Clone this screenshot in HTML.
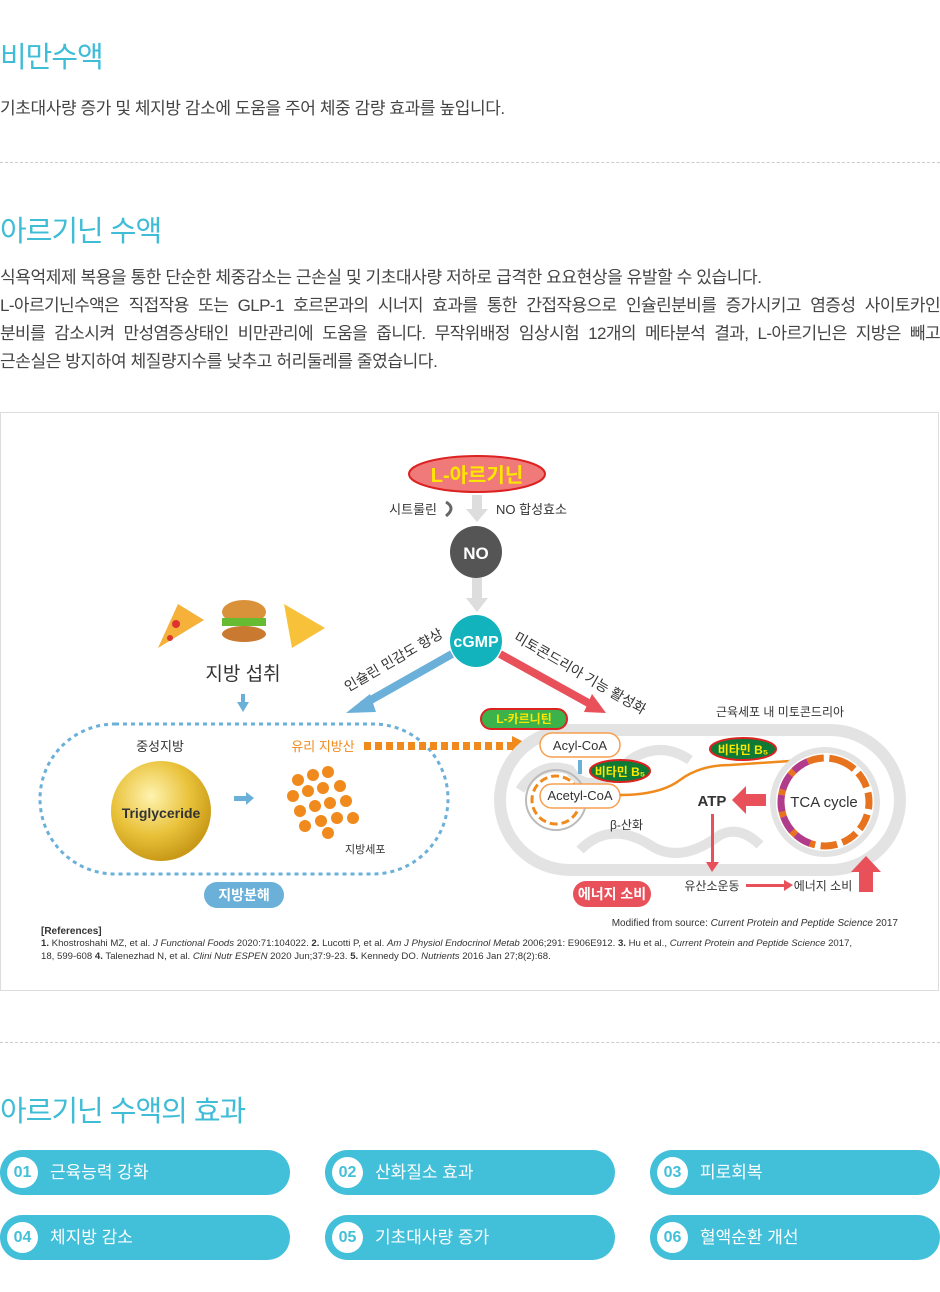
<!DOCTYPE html>
<html><head><meta charset="utf-8"><style>
*{margin:0;padding:0;box-sizing:border-box}
body{width:940px;height:1292px;background:#fff;position:relative;font-family:"Liberation Sans","Noto Sans CJK KR",sans-serif;color:#444;overflow:hidden}
.a{position:absolute}
h2{position:absolute;left:0;font-size:29px;font-weight:normal;color:#3fbcd6;letter-spacing:-1px}
.p{position:absolute;left:0;font-size:17px;color:#444;letter-spacing:-0.4px}
.j{text-align:justify;text-align-last:justify;width:940px;white-space:nowrap}
.dash{position:absolute;left:0;width:940px;border-top:1px dashed #ccc}
.pill{position:absolute;width:290px;height:45px;background:#42bfd9;border-radius:23px;color:#fff;font-size:17px;line-height:45px}
.pill b{position:absolute;left:7px;top:7px;width:31px;height:31px;border-radius:50%;background:#fff;color:#42bfd9;font-size:16px;line-height:31px;text-align:center}
.pill span{position:absolute;left:50px}
</style></head><body>
<h2 style="top:34px">비만수액</h2>
<div class="p" style="top:94px">기초대사량 증가 및 체지방 감소에 도움을 주어 체중 감량 효과를 높입니다.</div>
<div class="dash" style="top:162px"></div>
<h2 style="top:208px">아르기닌 수액</h2>
<div class="p" style="top:264px;width:940px;line-height:28px">
<div>식욕억제제 복용을 통한 단순한 체중감소는 근손실 및 기초대사량 저하로 급격한 요요현상을 유발할 수 있습니다.</div>
<div class="j" style="letter-spacing:-0.6px">L-아르기닌수액은 직접작용 또는 GLP-1 호르몬과의 시너지 효과를 통한 간접작용으로 인슐린분비를 증가시키고 염증성 사이토카인</div>
<div class="j" style="letter-spacing:-0.6px">분비를 감소시켜 만성염증상태인 비만관리에 도움을 줍니다. 무작위배정 임상시험 12개의 메타분석 결과, L-아르기닌은 지방은 빼고</div>
<div>근손실은 방지하여 체질량지수를 낮추고 허리둘레를 줄였습니다.</div>
</div>

<svg class="a" style="left:0;top:412px" width="940" height="580" viewBox="0 412 940 580" font-family="Liberation Sans, Noto Sans CJK KR, sans-serif">
<rect x="0.5" y="412.5" width="938" height="578" fill="#fff" stroke="#ddd"/>
<ellipse cx="477" cy="474" rx="68" ry="18" fill="#f07a7a" stroke="#d22" stroke-width="2"/>
<text x="477" y="482" font-size="20" font-weight="bold" fill="#ffe600" text-anchor="middle">L-아르기닌</text>
<text x="437" y="514" font-size="13" fill="#333" text-anchor="end">시트룰린</text>
<path d="M446 502 q10 6 0 14" stroke="#666" stroke-width="3" fill="none"/>
<text x="496" y="514" font-size="13" fill="#333">NO 합성효소</text>
<rect x="472" y="495" width="10" height="14" fill="#ddd"/><polygon points="466,509 488,509 477,522" fill="#ddd"/>
<circle cx="476" cy="552" r="26" fill="#555"/>
<text x="476" y="559" font-size="17" font-weight="bold" fill="#fff" text-anchor="middle">NO</text>
<rect x="472" y="578" width="10" height="22" fill="#ddd"/><polygon points="466,598 488,598 477,612" fill="#ddd"/>
<circle cx="476" cy="641" r="26" fill="#12b3bc"/>
<text x="476" y="647" font-size="16" font-weight="bold" fill="#fff" text-anchor="middle">cGMP</text>
<line x1="452" y1="654" x2="362" y2="705" stroke="#6ab0d8" stroke-width="8"/><polygon points="346,713 370,694 376,712" fill="#6ab0d8"/>
<line x1="500" y1="654" x2="592" y2="705" stroke="#e8505a" stroke-width="8"/><polygon points="606,713 584,712 592,694" fill="#e8505a"/>
<text transform="translate(348,692) rotate(-30)" font-size="14" fill="#333">인슐린 민감도 향상</text>
<text transform="translate(513,640) rotate(30)" font-size="14" fill="#333">미토콘드리아 기능 활성화</text>
<polygon points="158,648 178,604 204,620" fill="#f5b13a"/><circle cx="176" cy="624" r="4" fill="#d33"/><circle cx="170" cy="638" r="3" fill="#d33"/>
<ellipse cx="244" cy="612" rx="22" ry="12" fill="#d9913a"/><rect x="222" y="618" width="44" height="8" fill="#6b3" /><ellipse cx="244" cy="634" rx="22" ry="8" fill="#c97a30"/>
<polygon points="284,604 325,628 292,648" fill="#f7c23a"/>
<text x="243" y="680" font-size="19" fill="#333" text-anchor="middle">지방 섭취</text>
<rect x="241" y="694" width="4" height="8" fill="#6ab0d8"/><polygon points="237,702 249,702 243,712" fill="#6ab0d8"/>
<rect x="40" y="724" width="408" height="150" rx="75" fill="none" stroke="#6ab0d8" stroke-width="3" stroke-dasharray="4 4"/>
<text x="160" y="751" font-size="13" fill="#333" text-anchor="middle">중성지방</text>
<defs><radialGradient id="g" cx="40%" cy="35%" r="65%"><stop offset="0" stop-color="#fff3b0"/><stop offset="0.6" stop-color="#e9c23a"/><stop offset="1" stop-color="#c99a18"/></radialGradient></defs>
<circle cx="161" cy="811" r="50" fill="url(#g)"/>
<text x="161" y="818" font-size="14" font-weight="bold" fill="#333" text-anchor="middle">Triglyceride</text>
<rect x="234" y="796" width="12" height="5" fill="#6ab0d8"/><polygon points="246,792 254,798 246,805" fill="#6ab0d8"/>
<g fill="#f08a1c"><circle cx="298" cy="780" r="6"/><circle cx="313" cy="775" r="6"/><circle cx="328" cy="772" r="6"/><circle cx="293" cy="796" r="6"/><circle cx="308" cy="791" r="6"/><circle cx="323" cy="788" r="6"/><circle cx="340" cy="786" r="6"/><circle cx="300" cy="811" r="6"/><circle cx="315" cy="806" r="6"/><circle cx="330" cy="803" r="6"/><circle cx="346" cy="801" r="6"/><circle cx="305" cy="826" r="6"/><circle cx="321" cy="821" r="6"/><circle cx="337" cy="818" r="6"/><circle cx="353" cy="818" r="6"/><circle cx="328" cy="833" r="6"/></g>
<text x="345" y="853" font-size="11" fill="#333">지방세포</text>
<text x="323" y="751" font-size="13" fill="#f08a1c" text-anchor="middle">유리 지방산</text>
<line x1="364" y1="746" x2="515" y2="746" stroke="#f08a1c" stroke-width="8" stroke-dasharray="7 4"/><polygon points="512,736 532,746 512,756" fill="#f08a1c"/>
<rect x="204" y="882" width="80" height="26" rx="13" fill="#6ab0d8"/><text x="244" y="900" font-size="14" font-weight="bold" fill="#fff" text-anchor="middle">지방분해</text>
<text x="780" y="716" font-size="12" fill="#333" text-anchor="middle">근육세포 내 미토콘드리아</text>
<rect x="500" y="730" width="400" height="140" rx="70" fill="#fff" stroke="#e3e3e3" stroke-width="12"/>
<path d="M520 790 q20 -30 50 -20 q20 30 60 -10 q30 -20 60 0" stroke="#e3e3e3" stroke-width="10" fill="none"/>
<path d="M580 850 q30 -30 70 -5 q30 20 70 -10 q20 -10 40 10" stroke="#e3e3e3" stroke-width="10" fill="none"/>
<circle cx="556" cy="800" r="30" fill="none" stroke="#bbb" stroke-width="2"/><circle cx="556" cy="800" r="24" fill="none" stroke="#f08a1c" stroke-width="3" stroke-dasharray="8 4"/>
<rect x="540" y="733" width="80" height="24" rx="12" fill="#fff" stroke="#f5a050" stroke-width="1.5"/><text x="580" y="750" font-size="13" fill="#333" text-anchor="middle">Acyl-CoA</text>
<rect x="540" y="784" width="80" height="24" rx="12" fill="#fff" stroke="#f5a050" stroke-width="1.5"/><text x="580" y="800" font-size="13" fill="#333" text-anchor="middle">Acetyl-CoA</text>
<rect x="578" y="760" width="4" height="14" fill="#6ab0d8"/>
<ellipse cx="620" cy="771" rx="30" ry="11" fill="#0e7a35" stroke="#d22" stroke-width="2"/><text x="620" y="776" font-size="12" font-weight="bold" fill="#ffe600" text-anchor="middle">비타민 B₅</text>
<ellipse cx="743" cy="749" rx="33" ry="11" fill="#0e7a35" stroke="#d22" stroke-width="2"/><text x="743" y="754" font-size="12" font-weight="bold" fill="#ffe600" text-anchor="middle">비타민 B₅</text>
<path d="M620 795 q40 0 60 -15 q20 -15 50 -15 l90 -6" stroke="#f08a1c" stroke-width="2.5" fill="none"/><polygon points="818,754 832,758 819,764" fill="#f08a1c"/>
<text x="610" y="829" font-size="12" fill="#333">β-산화</text>
<circle cx="825" cy="802" r="52" fill="#fff" stroke="#e3e3e3" stroke-width="6"/>
<circle cx="825" cy="802" r="44" fill="none" stroke="#e8731f" stroke-width="7" stroke-dasharray="18 6" transform="rotate(-70 825 802)" pathLength="300" />
<circle cx="825" cy="802" r="44" fill="none" stroke="#b23c8c" stroke-width="7" stroke-dasharray="0 150 18 6 18 6 18 6 18 6 18 54" transform="rotate(-70 825 802)" pathLength="300"/>
<text x="824" y="807" font-size="15" fill="#333" text-anchor="middle">TCA cycle</text>
<text x="712" y="806" font-size="15" font-weight="bold" fill="#333" text-anchor="middle">ATP</text>
<rect x="746" y="794" width="20" height="12" fill="#e8505a"/><polygon points="746,786 732,800 746,814" fill="#e8505a"/>
<rect x="711" y="814" width="3" height="50" fill="#e8505a"/><polygon points="706,862 719,862 712,872" fill="#e8505a"/>
<text x="712" y="890" font-size="12" fill="#333" text-anchor="middle">유산소운동</text>
<rect x="746" y="884" width="40" height="3" fill="#e8505a"/><polygon points="784,880 793,885 784,891" fill="#e8505a"/>
<text x="823" y="890" font-size="12" fill="#333" text-anchor="middle">에너지 소비</text>
<rect x="859" y="872" width="14" height="20" fill="#e8505a"/><polygon points="851,872 866,856 881,872" fill="#e8505a"/>
<rect x="573" y="881" width="78" height="26" rx="13" fill="#e8505a"/><text x="612" y="899" font-size="14" font-weight="bold" fill="#fff" text-anchor="middle">에너지 소비</text>
<text x="898" y="926" font-size="10" fill="#333" text-anchor="end">Modified from source:  <tspan font-style="italic">Current Protein and Peptide Science</tspan> 2017</text>
<text x="41" y="934" font-size="10" font-weight="bold" fill="#333">[References]</text>
<text x="41" y="946" font-size="9.6" fill="#333"><tspan font-weight="bold">1.</tspan> Khostroshahi MZ, et al. <tspan font-style="italic">J Functional Foods</tspan> 2020:71:104022. <tspan font-weight="bold">2.</tspan> Lucotti P, et al. <tspan font-style="italic">Am J Physiol Endocrinol Metab</tspan> 2006;291: E906E912. <tspan font-weight="bold">3.</tspan> Hu et al., <tspan font-style="italic">Current Protein and Peptide Science</tspan> 2017,</text>
<text x="41" y="959" font-size="9.6" fill="#333">18, 599-608 <tspan font-weight="bold">4.</tspan> Talenezhad N, et al. <tspan font-style="italic">Clini Nutr ESPEN</tspan> 2020 Jun;37:9-23. <tspan font-weight="bold">5.</tspan> Kennedy DO. <tspan font-style="italic">Nutrients</tspan> 2016 Jan 27;8(2):68.</text>
</svg>
<div class="a" style="left:480px;top:708px;width:88px;height:22px;border-radius:11px;background:#3bb34a;border:2px solid #d22;color:#ffe600;font-size:12px;font-weight:bold;text-align:center;line-height:18px">L-카르니틴</div>

<div class="dash" style="top:1042px"></div>
<h2 style="top:1088px">아르기닌 수액의 효과</h2>
<div class="pill" style="left:0;top:1150px"><b>01</b><span>근육능력 강화</span></div>
<div class="pill" style="left:325px;top:1150px"><b>02</b><span>산화질소 효과</span></div>
<div class="pill" style="left:650px;top:1150px"><b>03</b><span>피로회복</span></div>
<div class="pill" style="left:0;top:1215px"><b>04</b><span>체지방 감소</span></div>
<div class="pill" style="left:325px;top:1215px"><b>05</b><span>기초대사량 증가</span></div>
<div class="pill" style="left:650px;top:1215px"><b>06</b><span>혈액순환 개선</span></div>
</body></html>
